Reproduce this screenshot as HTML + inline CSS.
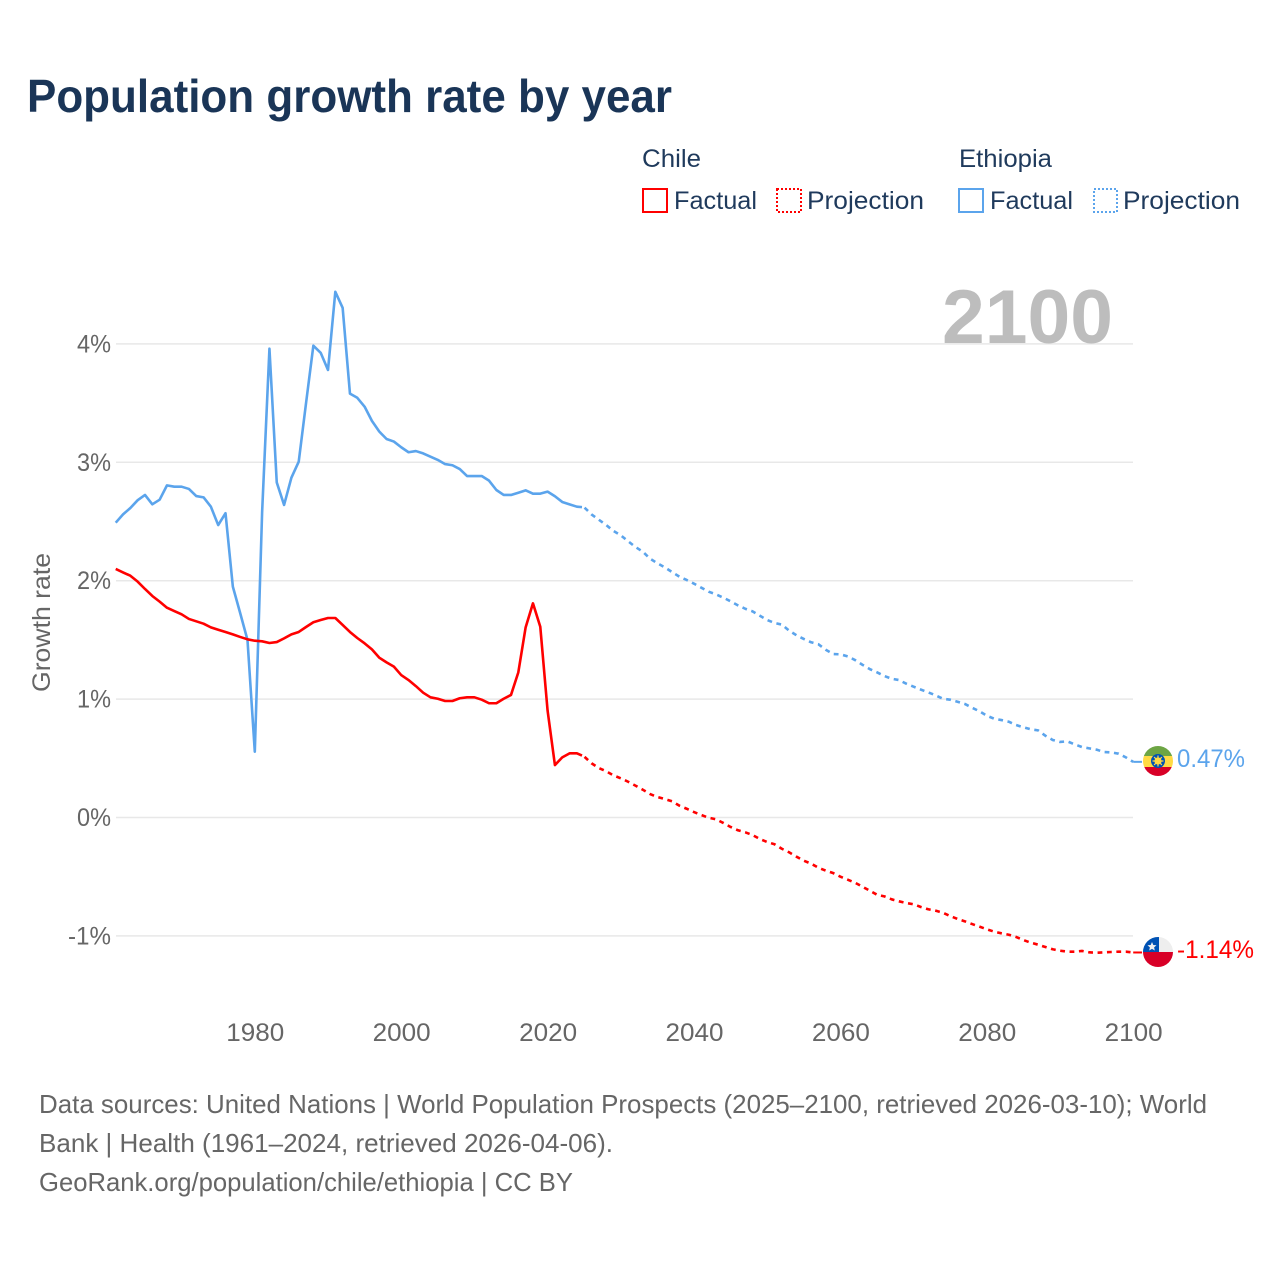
<!DOCTYPE html>
<html lang="en">
<head>
<meta charset="utf-8">
<title>Population growth rate by year</title>
<style>
html,body{margin:0;padding:0;background:#fff;width:1280px;height:1280px;overflow:hidden}
svg{display:block}
text{font-family:"Liberation Sans",sans-serif}
</style>
</head>
<body>
<svg id="chart" xmlns="http://www.w3.org/2000/svg" width="1280" height="1280" viewBox="0 0 1280 1280">
  <rect width="1280" height="1280" fill="#fff"/>
  <text x="27" y="112" font-size="46" font-weight="700" fill="#1a3557" textLength="645" lengthAdjust="spacingAndGlyphs">Population growth rate by year</text>

  <g font-size="25" fill="#1f3a5c">
    <text x="642" y="167" textLength="59" lengthAdjust="spacingAndGlyphs">Chile</text>
    <text x="959" y="167" textLength="93" lengthAdjust="spacingAndGlyphs">Ethiopia</text>
    <g>
      <rect x="643" y="189" width="24" height="23" fill="none" stroke="#ff0000" stroke-width="2"/>
      <text x="674" y="209" textLength="83" lengthAdjust="spacingAndGlyphs">Factual</text>
    </g>
    <g>
      <rect x="777" y="189" width="24" height="23" fill="none" stroke="#ff0000" stroke-width="2" stroke-dasharray="2 2"/>
      <text x="807" y="209" textLength="117" lengthAdjust="spacingAndGlyphs">Projection</text>
    </g>
    <g>
      <rect x="959" y="189" width="24" height="23" fill="none" stroke="#5ba4ec" stroke-width="2"/>
      <text x="990" y="209" textLength="83" lengthAdjust="spacingAndGlyphs">Factual</text>
    </g>
    <g>
      <rect x="1094" y="189" width="23" height="23" fill="none" stroke="#5ba4ec" stroke-width="2" stroke-dasharray="2 2"/>
      <text x="1123" y="209" textLength="117" lengthAdjust="spacingAndGlyphs">Projection</text>
    </g>
  </g>

  <g id="grid"></g>
  <text x="942" y="343" font-size="76" font-weight="700" fill="#bdbdbd" textLength="171" lengthAdjust="spacingAndGlyphs">2100</text>
  <g id="yticks" font-size="25" fill="#666"></g>
  <g id="xticks" font-size="25" fill="#666"></g>
  <text transform="translate(50,692) rotate(-90)" font-size="25" fill="#666" textLength="139" lengthAdjust="spacingAndGlyphs">Growth rate</text>
  <g id="series"></g>

  <g>
    <clipPath id="clipEt"><circle cx="1158" cy="761" r="15"/></clipPath>
    <g clip-path="url(#clipEt)">
      <rect x="1143" y="746" width="30" height="10" fill="#6da544"/>
      <rect x="1143" y="756" width="30" height="11" fill="#ffda44"/>
      <rect x="1143" y="767" width="30" height="10" fill="#d80027"/>
    </g>
    <circle cx="1158" cy="761" r="7" fill="#0052b4"/>
    <circle cx="1158" cy="761" r="3.6" fill="#ffda44"/>
    <path d="M1158 755.5V766.5M1152.5 761H1163.5M1154.1 757.1L1161.9 764.9M1161.9 757.1L1154.1 764.9" stroke="#ffda44" stroke-width="1.2"/>
  </g>
  <g>
    <clipPath id="clipCl"><circle cx="1158" cy="952" r="15"/></clipPath>
    <g clip-path="url(#clipCl)">
      <rect x="1143" y="937" width="30" height="15" fill="#eeeeee"/>
      <rect x="1143" y="937" width="16" height="15" fill="#0052b4"/>
      <rect x="1143" y="952" width="30" height="15" fill="#d80027"/>
    </g>
    <polygon points="1152,942 1153.3,945 1156.5,945.3 1154.1,947.4 1154.8,950.5 1152,948.9 1149.2,950.5 1149.9,947.4 1147.5,945.3 1150.7,945" fill="#f0f0f0"/>
  </g>
  <text x="1177" y="767" font-size="25" fill="#5ba4ec" textLength="68" lengthAdjust="spacingAndGlyphs">0.47%</text>
  <text x="1177" y="958" font-size="25" fill="#ff0000" textLength="77" lengthAdjust="spacingAndGlyphs">-1.14%</text>

  <g font-size="26" fill="#666">
    <text x="39" y="1113" textLength="1168" lengthAdjust="spacingAndGlyphs">Data sources: United Nations | World Population Prospects (2025–2100, retrieved 2026-03-10); World</text>
    <text x="39" y="1152" textLength="574" lengthAdjust="spacingAndGlyphs">Bank | Health (1961–2024, retrieved 2026-04-06).</text>
    <text x="39" y="1191" textLength="534" lengthAdjust="spacingAndGlyphs">GeoRank.org/population/chile/ethiopia | CC BY</text>
  </g>
</svg>
<script>
const factualStartYear = 1961;
const projectionStartYear = 2025;
const xTickYears = [1980, 2000, 2020, 2040, 2060, 2080, 2100];
const yTickValues = [4, 3, 2, 1, 0, -1];
const yTickLabels = ["4%", "3%", "2%", "1%", "0%", "-1%"];

const chileFactual = [2.099,2.07,2.042,1.992,1.93,1.871,1.823,1.772,1.744,1.716,1.677,1.657,1.637,1.606,1.586,1.567,1.547,1.525,1.505,1.493,1.488,1.474,1.482,1.513,1.547,1.567,1.609,1.649,1.668,1.685,1.685,1.626,1.567,1.516,1.471,1.42,1.35,1.31,1.274,1.203,1.161,1.11,1.054,1.015,1.003,0.984,0.984,1.007,1.015,1.015,0.995,0.965,0.965,1.003,1.035,1.226,1.606,1.809,1.611,0.902,0.443,0.508,0.542,0.542,0.515];

const chileProjection = [0.515,0.458,0.418,0.39,0.356,0.331,0.302,0.269,0.235,0.198,0.173,0.156,0.137,0.1,0.074,0.046,0.021,-0.002,-0.015,-0.046,-0.08,-0.108,-0.125,-0.148,-0.182,-0.207,-0.226,-0.264,-0.294,-0.331,-0.365,-0.39,-0.424,-0.449,-0.469,-0.5,-0.525,-0.551,-0.584,-0.618,-0.652,-0.666,-0.691,-0.708,-0.722,-0.733,-0.756,-0.775,-0.787,-0.804,-0.832,-0.857,-0.877,-0.9,-0.922,-0.944,-0.964,-0.978,-0.99,-1.009,-1.035,-1.057,-1.074,-1.094,-1.113,-1.125,-1.133,-1.133,-1.127,-1.139,-1.142,-1.139,-1.136,-1.133,-1.133,-1.14];

const ethiopiaFactual = [2.49,2.56,2.614,2.68,2.724,2.645,2.684,2.805,2.794,2.794,2.775,2.715,2.704,2.625,2.47,2.57,1.95,1.727,1.5,0.556,2.58,3.96,2.83,2.64,2.87,3.005,3.5,3.985,3.925,3.78,4.44,4.305,3.58,3.545,3.47,3.35,3.26,3.197,3.175,3.127,3.085,3.095,3.075,3.047,3.02,2.985,2.975,2.943,2.884,2.884,2.884,2.845,2.766,2.724,2.724,2.743,2.763,2.735,2.735,2.752,2.713,2.665,2.645,2.625,2.62];

const ethiopiaProjection = [2.62,2.56,2.515,2.47,2.42,2.383,2.333,2.285,2.245,2.186,2.147,2.113,2.073,2.034,2.006,1.975,1.941,1.907,1.885,1.857,1.826,1.792,1.763,1.741,1.704,1.668,1.643,1.629,1.578,1.539,1.508,1.48,1.463,1.417,1.381,1.378,1.361,1.33,1.29,1.254,1.226,1.195,1.172,1.161,1.13,1.105,1.08,1.057,1.032,1.003,0.995,0.978,0.959,0.927,0.897,0.86,0.834,0.823,0.809,0.781,0.762,0.745,0.736,0.691,0.655,0.638,0.643,0.618,0.595,0.584,0.573,0.553,0.55,0.539,0.508,0.47];

const NS = "http://www.w3.org/2000/svg";
const plotLeft = 116;
const plotRight = 1133;

function xScale(year) {
  return 254.8 + (year - 1980) * 7.32;
}
function yScale(value) {
  return 817.5 - value * 118.4;
}
function make(tag, attrs, parent) {
  const el = document.createElementNS(NS, tag);
  for (const k in attrs) el.setAttribute(k, attrs[k]);
  parent.appendChild(el);
  return el;
}
function pathFrom(values, startYear, lastFraction) {
  const pts = values.map(function (v, i) {
    return [xScale(startYear + i), yScale(v)];
  });
  if (lastFraction !== undefined) {
    const a = pts[pts.length - 2];
    const b = pts[pts.length - 1];
    pts[pts.length - 1] = [a[0] + (b[0] - a[0]) * lastFraction, a[1] + (b[1] - a[1]) * lastFraction];
  }
  return pts.map(function (p, i) {
    return (i ? "L" : "M") + p[0].toFixed(2) + " " + p[1].toFixed(2);
  }).join("");
}

const gridGroup = document.getElementById("grid");
const yGroup = document.getElementById("yticks");
yTickValues.forEach(function (v, i) {
  const line = make("line", {x1: plotLeft, x2: plotRight, y1: yScale(v), y2: yScale(v), stroke: "#e8e8e8", "stroke-width": 1.5}, gridGroup);
  
  
  const label = make("text", {x: 111, y: yScale(v) + 8.5, "text-anchor": "end", textLength: yTickLabels[i].length === 2 ? 34 : 43, lengthAdjust: "spacingAndGlyphs"}, yGroup);
  
  
  label.textContent = yTickLabels[i];
});

const xGroup = document.getElementById("xticks");
xTickYears.forEach(function (year) {
  const label = make("text", {x: xScale(year) + 0.5, y: 1041, "text-anchor": "middle", textLength: 58, lengthAdjust: "spacingAndGlyphs"}, xGroup);
  
  
  label.textContent = String(year);
});

const seriesGroup = document.getElementById("series");
const common = {fill: "none", "stroke-width": 2.6, "stroke-linejoin": "round"};

const ethSolid = make("path", Object.assign({d: pathFrom(ethiopiaFactual, factualStartYear, 0.7), stroke: "#5ba4ec"}, common), seriesGroup);



const ethDash = make("path", Object.assign({d: pathFrom(ethiopiaProjection, projectionStartYear), stroke: "#5ba4ec", "stroke-dasharray": "4.8 4.6", "stroke-dashoffset": "-0.5"}, common), seriesGroup);



const chileSolid = make("path", Object.assign({d: pathFrom(chileFactual, factualStartYear, 0.7), stroke: "#ff0000"}, common), seriesGroup);



const chileDash = make("path", Object.assign({d: pathFrom(chileProjection, projectionStartYear), stroke: "#ff0000", "stroke-dasharray": "4.8 4.6", "stroke-dashoffset": "-0.5"}, common), seriesGroup);



const ethEnd = ethiopiaProjection[ethiopiaProjection.length - 1];
const ethLeader = make("line", {x1: xScale(2100), x2: xScale(2101.2), y1: yScale(ethEnd), y2: yScale(ethEnd), stroke: "#5ba4ec", "stroke-width": 2}, seriesGroup);



const chileEnd = chileProjection[chileProjection.length - 1];
const chileLeader = make("line", {x1: xScale(2100), x2: xScale(2101.2), y1: yScale(chileEnd), y2: yScale(chileEnd), stroke: "#ff0000", "stroke-width": 2}, seriesGroup);


</script>
</body>
</html>
